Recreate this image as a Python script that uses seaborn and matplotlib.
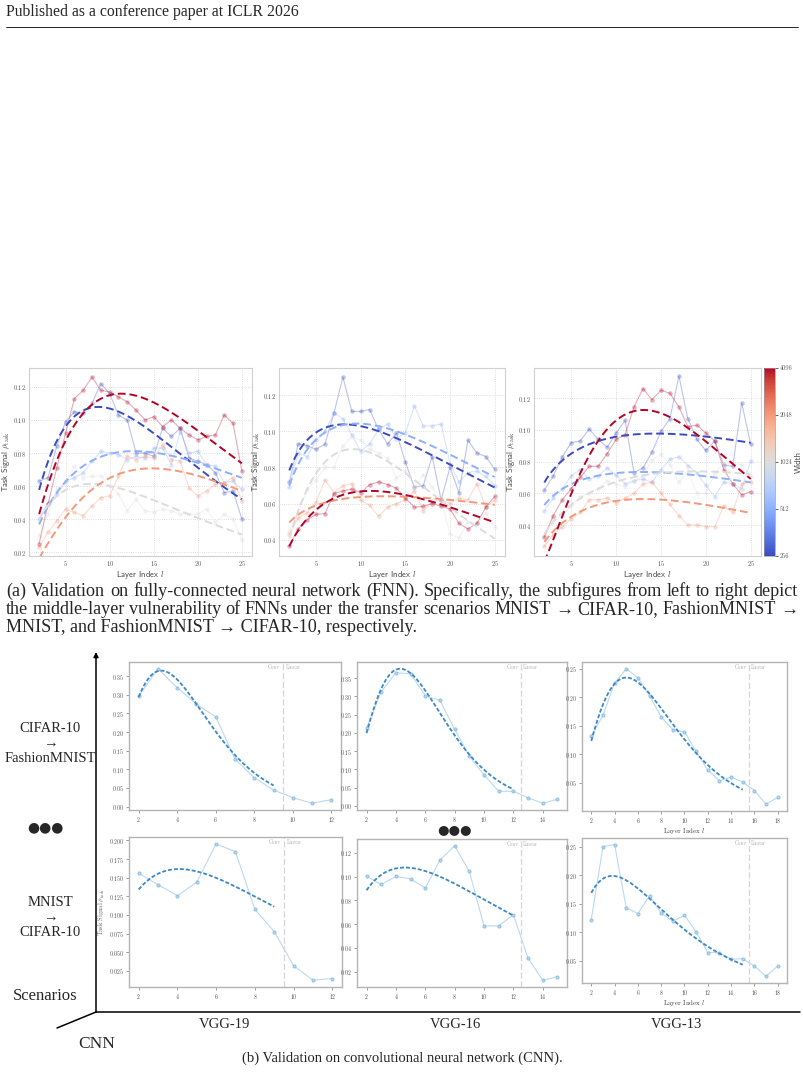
import numpy as np
import pandas as pd
import matplotlib
matplotlib.use("Agg")
import matplotlib.pyplot as plt
import seaborn as sns
from matplotlib.colors import LogNorm
from matplotlib.cm import ScalarMappable
from matplotlib.ticker import MultipleLocator

W, H = 804, 1074

layers = list(range(2, 26))
widths = [256, 512, 1024, 2048, 4096]

# FNN, MNIST -> CIFAR-10
mc_256 = [0.063, 0.065, 0.084, 0.099, 0.105, 0.104, 0.110, 0.122, 0.116, 0.103, 0.100, 0.080,
          0.080, 0.078, 0.095, 0.090, 0.095, 0.077, 0.075, 0.073, 0.068, 0.056, 0.057, 0.040]
mc_512 = [0.040, 0.050, 0.055, 0.063, 0.065, 0.068, 0.075, 0.081, 0.080, 0.079, 0.076, 0.078,
          0.077, 0.083, 0.083, 0.073, 0.093, 0.080, 0.081, 0.073, 0.072, 0.062, 0.063, 0.058]
mc_1024 = [0.030, 0.043, 0.058, 0.062, 0.072, 0.065, 0.066, 0.066, 0.060, 0.055, 0.045, 0.052,
           0.045, 0.044, 0.046, 0.045, 0.043, 0.043, 0.043, 0.046, 0.038, 0.043, 0.040, 0.027]
mc_2048 = [0.023, 0.032, 0.039, 0.046, 0.044, 0.042, 0.048, 0.053, 0.054, 0.066, 0.078, 0.076,
           0.078, 0.077, 0.085, 0.076, 0.075, 0.059, 0.054, 0.057, 0.061, 0.062, 0.065, 0.051]
mc_4096 = [0.025, 0.049, 0.071, 0.092, 0.113, 0.118, 0.126, 0.118, 0.117, 0.114, 0.111, 0.106,
           0.100, 0.102, 0.096, 0.100, 0.095, 0.091, 0.088, 0.090, 0.091, 0.103, 0.098, 0.069]

# FNN, FashionMNIST -> MNIST
fm_256 = [0.072, 0.093, 0.092, 0.090, 0.093, 0.110, 0.130, 0.111, 0.111, 0.112, 0.101, 0.093,
          0.099, 0.083, 0.069, 0.070, 0.086, 0.062, 0.080, 0.066, 0.095, 0.088, 0.086, 0.079]
fm_512 = [0.069, 0.088, 0.086, 0.095, 0.100, 0.110, 0.107, 0.098, 0.089, 0.093, 0.101, 0.104,
          0.096, 0.099, 0.114, 0.103, 0.103, 0.104, 0.082, 0.072, 0.077, 0.078, 0.075, 0.070]
fm_1024 = [0.045, 0.055, 0.068, 0.073, 0.080, 0.080, 0.092, 0.097, 0.095, 0.090, 0.088, 0.085,
           0.074, 0.078, 0.069, 0.076, 0.069, 0.062, 0.043, 0.041, 0.050, 0.049, 0.055, 0.047]
fm_2048 = [0.043, 0.052, 0.055, 0.061, 0.073, 0.066, 0.070, 0.071, 0.062, 0.059, 0.053, 0.058,
           0.060, 0.062, 0.067, 0.056, 0.061, 0.062, 0.060, 0.063, 0.062, 0.071, 0.058, 0.062]
fm_4096 = [0.0365, 0.046, 0.051, 0.054, 0.0545, 0.0655, 0.067, 0.068, 0.066, 0.0705, 0.072, 0.0705,
           0.0685, 0.063, 0.058, 0.0585, 0.060, 0.0585, 0.057, 0.049, 0.046, 0.049, 0.058, 0.064]

# FNN, FashionMNIST -> CIFAR-10
fc_256 = [0.062, 0.071, 0.083, 0.092, 0.093, 0.1005, 0.094, 0.089, 0.098, 0.106, 0.073, 0.076,
          0.086, 0.099, 0.107, 0.134, 0.107, 0.094, 0.087, 0.093, 0.078, 0.077, 0.117, 0.091]
fc_512 = [0.049, 0.057, 0.063, 0.071, 0.075, 0.069, 0.071, 0.076, 0.0715, 0.066, 0.068, 0.069,
          0.067, 0.075, 0.0815, 0.083, 0.0775, 0.073, 0.065, 0.058, 0.067, 0.066, 0.063, 0.0805]
fc_1024 = [0.033, 0.044, 0.046, 0.052, 0.058, 0.060, 0.063, 0.068, 0.066, 0.064, 0.068, 0.071,
           0.081, 0.0845, 0.078, 0.067, 0.074, 0.060, 0.060, 0.073, 0.079, 0.079, 0.078, 0.071]
fc_2048 = [0.0265, 0.034, 0.039, 0.044, 0.048, 0.056, 0.056, 0.057, 0.054, 0.057, 0.060, 0.066,
           0.067, 0.060, 0.053, 0.046, 0.040, 0.040, 0.039, 0.039, 0.052, 0.048, 0.066, 0.067]
fc_4096 = [0.0324, 0.046, 0.056, 0.063, 0.070, 0.077, 0.077, 0.085, 0.094, 0.097, 0.1145, 0.126,
           0.119, 0.125, 0.123, 0.1145, 0.102, 0.103, 0.098, 0.093, 0.075, 0.066, 0.059, 0.061]

# CNN, task signal per layer starting at layer 2
vgg19_c2f = [0.296, 0.370, 0.319, 0.275, 0.241, 0.128, 0.0775, 0.0445, 0.024, 0.009, 0.0187]
vgg16_c2f = [0.214, 0.313, 0.365, 0.362, 0.302, 0.289, 0.210, 0.136, 0.085, 0.040, 0.040,
             0.022, 0.007, 0.018]
vgg13_c2f = [0.132, 0.168, 0.225, 0.250, 0.234, 0.203, 0.165, 0.143, 0.139, 0.105, 0.072,
             0.053, 0.060, 0.051, 0.036, 0.012, 0.024]
vgg19_m2c = [0.156, 0.1406, 0.1259, 0.144, 0.1955, 0.1848, 0.1076, 0.0777, 0.032, 0.0125, 0.0147]
vgg16_m2c = [0.1004, 0.0935, 0.1002, 0.0982, 0.0904, 0.1139, 0.1261, 0.1044, 0.0585, 0.0585,
             0.068, 0.0312, 0.0127, 0.0158]
vgg13_m2c = [0.1225, 0.250, 0.2535, 0.143, 0.133, 0.164, 0.1336, 0.1196, 0.130, 0.101, 0.0646,
             0.0646, 0.053, 0.054, 0.0412, 0.023, 0.0412]
last_conv = {"VGG-19": 9, "VGG-16": 12, "VGG-13": 15}

caption_a = [
    "(a) Validation on fully-connected neural network (FNN). Specifically, the subfigures from left to right depict",
    "the middle-layer vulnerability of FNNs under the transfer scenarios MNIST \u2192 CIFAR-10, FashionMNIST \u2192",
    "MNIST, and FashionMNIST \u2192 CIFAR-10, respectively.",
]
caption_b = "(b) Validation on convolutional neural network (CNN)."

sns.set_theme(style="whitegrid", rc={
    "grid.linestyle": ":", "grid.linewidth": 0.6, "grid.color": "#d4d4d4",
    "axes.edgecolor": "#d0d0d0", "axes.linewidth": 0.8,
    "mathtext.fontset": "cm", "axes.formatter.use_mathtext": True,
})
SERIF = ["Liberation Serif", "DejaVu Serif"]

fig = plt.figure(figsize=(W / 100, H / 100), dpi=100)


def ax_px(l, t, r, b):
    return fig.add_axes([l / W, 1 - b / H, (r - l) / W, (b - t) / H])


def peak_fit(x, y, grid):
    # least-squares fit of y = A * x**b * exp(c * x)
    x = np.asarray(x, float)
    y = np.asarray(y, float)
    X = np.column_stack([np.ones_like(x), np.log(x), x])
    p = np.linalg.lstsq(X * y[:, None], np.log(y) * y, rcond=None)[0]
    sse = np.sum((y - np.exp(X @ p)) ** 2)
    for _ in range(60):
        f = np.exp(X @ p)
        step = np.linalg.lstsq(X * f[:, None], y - f, rcond=None)[0]
        for _ in range(20):
            q = p + step
            s = np.sum((y - np.exp(X @ q)) ** 2)
            if s <= sse:
                break
            step = step / 2
        else:
            break
        p, sse = q, s
    G = np.column_stack([np.ones_like(grid), np.log(grid), grid])
    return np.exp(G @ p)


# overlay for page decorations
ov = ax_px(0, 0, W, H)
ov.set_xlim(0, W)
ov.set_ylim(H, 0)
ov.axis("off")

norm = LogNorm(vmin=256, vmax=4096)
cmap = plt.get_cmap("coolwarm")
pal = {w: cmap(norm(w)) for w in widths}


def fnn_panel(box, series, ylim):
    ax = ax_px(*box)
    df = pd.DataFrame({
        "layer": layers * len(widths),
        "signal": sum(series, []),
        "width": np.repeat(widths, len(layers)),
    })
    sns.lineplot(data=df, x="layer", y="signal", hue="width", palette=pal, marker="o",
                 markersize=3.2, lw=0.8, alpha=0.33, mec="none", legend=False, ax=ax)
    grid = np.linspace(2, 25, 200)
    for w, ys in zip(widths, series):
        sns.lineplot(x=grid, y=peak_fit(layers, ys, grid), color=pal[w], lw=1.4,
                     linestyle=(0, (4, 2)), ax=ax)
    ax.set_xlim(0.85, 26.15)
    ax.set_ylim(*ylim)
    ax.xaxis.set_major_locator(MultipleLocator(5))
    ax.yaxis.set_major_locator(MultipleLocator(0.02))
    ax.tick_params(labelsize=4.6, labelcolor="#555555", labelfontfamily="cmr10", length=0, pad=2)
    ax.set_xlabel("Layer Index $l$", fontsize=6.2, family="cmss10", color="#444444", labelpad=0.8)
    ax.set_ylabel(r"Task Signal $\rho_{\mathrm{task}}$", fontsize=6, family="cmss10",
                  color="#444444", labelpad=0.8)
    return ax


fnn_panel((29, 368, 252, 556), [mc_256, mc_512, mc_1024, mc_2048, mc_4096], (0.0176, 0.1315))
fnn_panel((279, 368, 505, 556), [fm_256, fm_512, fm_1024, fm_2048, fm_4096], (0.031, 0.135))
fnn_panel((534, 368, 761, 556), [fc_256, fc_512, fc_1024, fc_2048, fc_4096], (0.0205, 0.139))

cax = ax_px(764, 368, 775, 556)
cb = fig.colorbar(ScalarMappable(norm=norm, cmap=cmap), cax=cax)
cb.set_ticks(widths)
cb.set_ticklabels([str(w) for w in widths])
cb.ax.minorticks_off()
cb.outline.set_linewidth(0.5)
cb.outline.set_edgecolor("#999999")
cb.ax.tick_params(labelsize=4.6, labelcolor="#555555", labelfontfamily="cmr10", length=2,
                  width=0.5, pad=1.5)
cb.set_label("Width", fontsize=6.2, family="cmss10", color="#444444", labelpad=2)


def cnn_panel(box, ys, net, ystep, xlabel=False, ylabel=False):
    ax = ax_px(*box)
    ax.grid(False)
    xs = list(range(2, 2 + len(ys)))
    sns.lineplot(x=xs, y=ys, color="#b3d5ee", marker="o", markersize=2.2, lw=0.8,
                 mec="#8fbfe0", alpha=0.9, ax=ax)
    conv = last_conv[net]
    cx = [x for x in xs if x <= conv]
    grid = np.linspace(2, conv, 150)
    sns.lineplot(x=grid, y=peak_fit(cx, ys[:len(cx)], grid), color="#3d88c6", lw=1.3,
                 linestyle=(0, (2.2, 1.1)), ax=ax)
    ax.axvline(conv + 0.5, color="#d6d6d6", lw=0.9, ls=(0, (5, 2)))
    ax.text(conv + 0.35, 0.965, "Conv", transform=ax.get_xaxis_transform(), ha="right",
            va="center", fontsize=3.8, color="#b0b0b0", family="cmr10")
    ax.text(conv + 0.65, 0.965, "Linear", transform=ax.get_xaxis_transform(), ha="left",
            va="center", fontsize=3.8, color="#b0b0b0", family="cmr10")
    ax.xaxis.set_major_locator(MultipleLocator(2))
    ax.yaxis.set_major_locator(MultipleLocator(ystep))
    for sp in ax.spines.values():
        sp.set_color("#b4b4b4")
        sp.set_linewidth(1.0)
    ax.tick_params(labelsize=4.2, labelcolor="#555555", labelfontfamily="cmr10", length=2,
                   width=0.5, color="#777777", bottom=True, left=True, pad=1.5)
    if xlabel:
        ax.set_xlabel("Layer Index $l$", fontsize=5, family="cmr10", color="#444444", labelpad=1)
    if ylabel:
        ax.set_ylabel(r"Task Signal $\rho_{\mathrm{task}}$", fontsize=4.6, family="cmr10",
                      color="#666666", labelpad=2)
    return ax


cnn_panel((129, 662, 341, 810), vgg19_c2f, "VGG-19", 0.05)
cnn_panel((357, 662, 567, 810), vgg16_c2f, "VGG-16", 0.05)
cnn_panel((582, 662, 787, 811), vgg13_c2f, "VGG-13", 0.05, xlabel=True)
cnn_panel((129, 837, 342, 987), vgg19_m2c, "VGG-19", 0.025, ylabel=True)
cnn_panel((357, 839, 567, 987), vgg16_m2c, "VGG-16", 0.02)
cnn_panel((582, 838, 787, 983), vgg13_m2c, "VGG-13", 0.05, xlabel=True)

# header
ov.text(6, 12, "Published as a conference paper at ICLR 2026", fontsize=11.3, family=SERIF,
        va="center", ha="left")
ov.plot([6, 798], [27, 27], color="black", lw=0.6)

renderer = fig.canvas.get_renderer()
probe = ov.text(0, 0, caption_a[0], fontsize=10, family=SERIF)
cap_size = 10 * 788 / probe.get_window_extent(renderer).width
probe.remove()


def put_line(text, y, size, justify):
    if not justify:
        ov.text(6, y, text, fontsize=size, family=SERIF, va="center", ha="left")
        return
    words = text.split(" ")
    objs = [ov.text(0, y, w, fontsize=size, family=SERIF, va="center", ha="left") for w in words]
    ws = [o.get_window_extent(renderer).width for o in objs]
    gap = (792 - sum(ws)) / (len(words) - 1)
    x = 6
    for o, w in zip(objs, ws):
        o.set_x(x)
        x += w + gap


put_line(caption_a[0], 591, cap_size, True)
put_line(caption_a[1], 610, cap_size, True)
put_line(caption_a[2], 628, cap_size, False)
ov.text(402, 1058, caption_b, fontsize=10.5, family=SERIF, ha="center", va="center")

# scenario / architecture axes
ov.annotate("", xy=(96, 652), xytext=(96, 1012),
            arrowprops=dict(arrowstyle="-|>", lw=1.1, color="black", mutation_scale=7,
                            shrinkA=0, shrinkB=0))
ov.plot([96, 800], [1012, 1012], color="black", lw=1.1)
ov.plot([96, 57], [1012, 1028], color="black", lw=1.1)

for txt, y in [("CIFAR-10", 728), ("\u2192", 743), ("FashionMNIST", 758),
               ("MNIST", 902), ("\u2192", 917), ("CIFAR-10", 933)]:
    ov.text(50, y, txt, fontsize=10.5, family=SERIF, ha="center", va="center")
ov.text(45, 996, "Scenarios", fontsize=12, family=SERIF, ha="center", va="center")
ov.text(97, 1044, "CNN", fontsize=12.5, family=SERIF, ha="center", va="center")
ov.text(45, 827, "\u25cf\u25cf\u25cf", fontsize=10, family="DejaVu Sans", ha="center", va="center")
ov.text(455, 830, "\u25cf\u25cf\u25cf", fontsize=9.5, family="DejaVu Sans", ha="center", va="center")
for net, x in [("VGG-19", 225), ("VGG-16", 455), ("VGG-13", 677)]:
    ov.text(x, 1025, net, fontsize=10.5, family=SERIF, ha="center", va="center")

fig.savefig("out.png", dpi=100)
